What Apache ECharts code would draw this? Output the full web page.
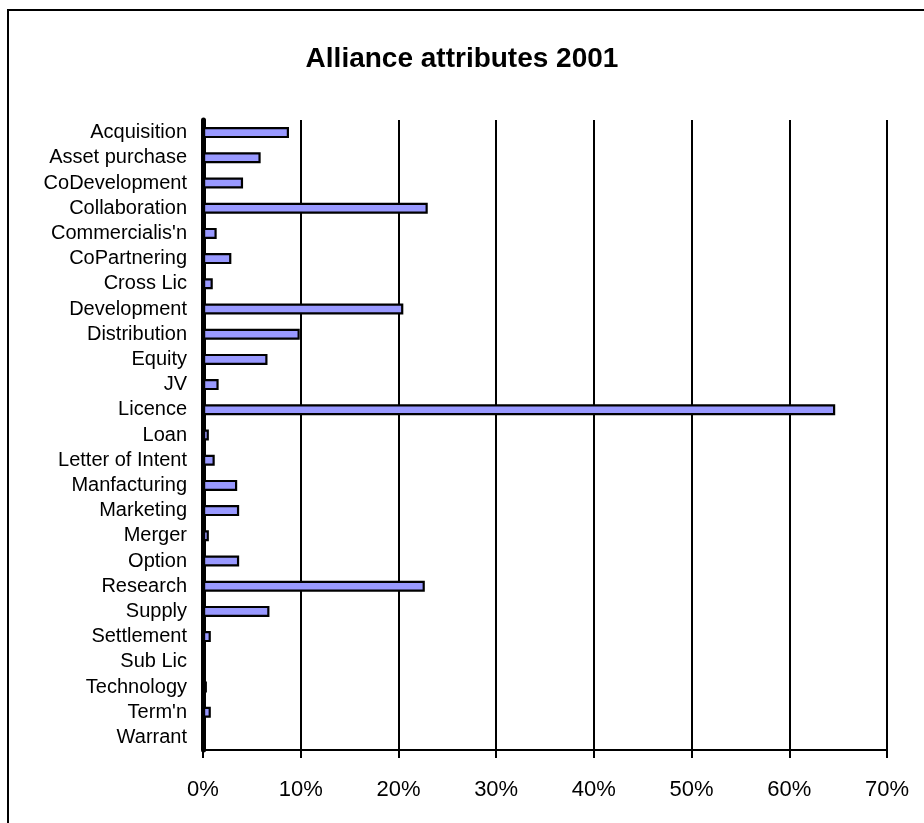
<!DOCTYPE html>
<html>
<head>
<meta charset="utf-8">
<script src="https://cdn.jsdelivr.net/npm/echarts@6/dist/echarts.min.js"></script>
<style>
  html, body { margin: 0; padding: 0; background: #fff; }
  #chart { width: 924px; height: 823px; }
</style>
</head>
<body>
<div id="chart"></div>
<script>
// Alliance attribute categories, top to bottom
const categories = [
  "Acquisition", "Asset purchase", "CoDevelopment", "Collaboration",
  "Commercialis'n", "CoPartnering", "Cross Lic", "Development",
  "Distribution", "Equity", "JV", "Licence", "Loan", "Letter of Intent",
  "Manfacturing", "Marketing", "Merger", "Option", "Research", "Supply",
  "Settlement", "Sub Lic", "Technology", "Term'n", "Warrant"
];

// Share of alliances carrying each attribute (percent)
const shares = [
  8.8, 5.9, 4.1, 23.0,
  1.4, 2.9, 1.0, 20.5,
  9.9, 6.6, 1.6, 64.7, 0.6, 1.2,
  3.5, 3.7, 0.6, 3.7, 22.7, 6.8,
  0.8, 0.0, 0.4, 0.8, 0.0
];

// Value axis ticks
const axisMin = 0;
const axisMax = 70;
const axisStep = 10;

const font = "'Liberation Sans', Arial, sans-serif";
const chart = echarts.init(document.getElementById('chart'), null, { renderer: 'canvas' });

chart.setOption({
  backgroundColor: '#ffffff',
  animation: false,
  title: {
    text: 'Alliance attributes 2001',
    left: 'center',
    top: 40,
    textStyle: { fontFamily: font, fontSize: 28, fontWeight: 'bold', color: '#000' }
  },
  graphic: [{
    type: 'rect',
    shape: { x: 8, y: 10, width: 940, height: 900 },
    style: { fill: 'none', stroke: '#000', lineWidth: 2 },
    silent: true
  }],
  grid: { left: 203, right: 37, top: 120, bottom: 73, containLabel: false },
  xAxis: {
    type: 'value',
    min: axisMin,
    max: axisMax,
    interval: axisStep,
    axisLine: { show: true, lineStyle: { color: '#000', width: 2 } },
    axisTick: { show: true, length: 8, lineStyle: { color: '#000', width: 2 } },
    splitLine: { show: true, lineStyle: { color: '#000', width: 2 } },
    axisLabel: {
      margin: 29,
      formatter: '{value}%',
      color: '#000',
      fontFamily: font,
      fontSize: 22
    }
  },
  yAxis: {
    type: 'category',
    data: categories,
    inverse: true,
    axisLine: { show: true, lineStyle: { color: '#000', width: 5 } },
    axisTick: { show: false },
    splitLine: { show: false },
    axisLabel: {
      margin: 16,
      color: '#000',
      fontFamily: font,
      fontSize: 20,
      interval: 0
    }
  },
  series: [{
    type: 'bar',
    data: shares,
    barWidth: 11,
    itemStyle: { color: '#9999ff', borderColor: '#000', borderWidth: 2.2 }
  }]
});
</script>
</body>
</html>
